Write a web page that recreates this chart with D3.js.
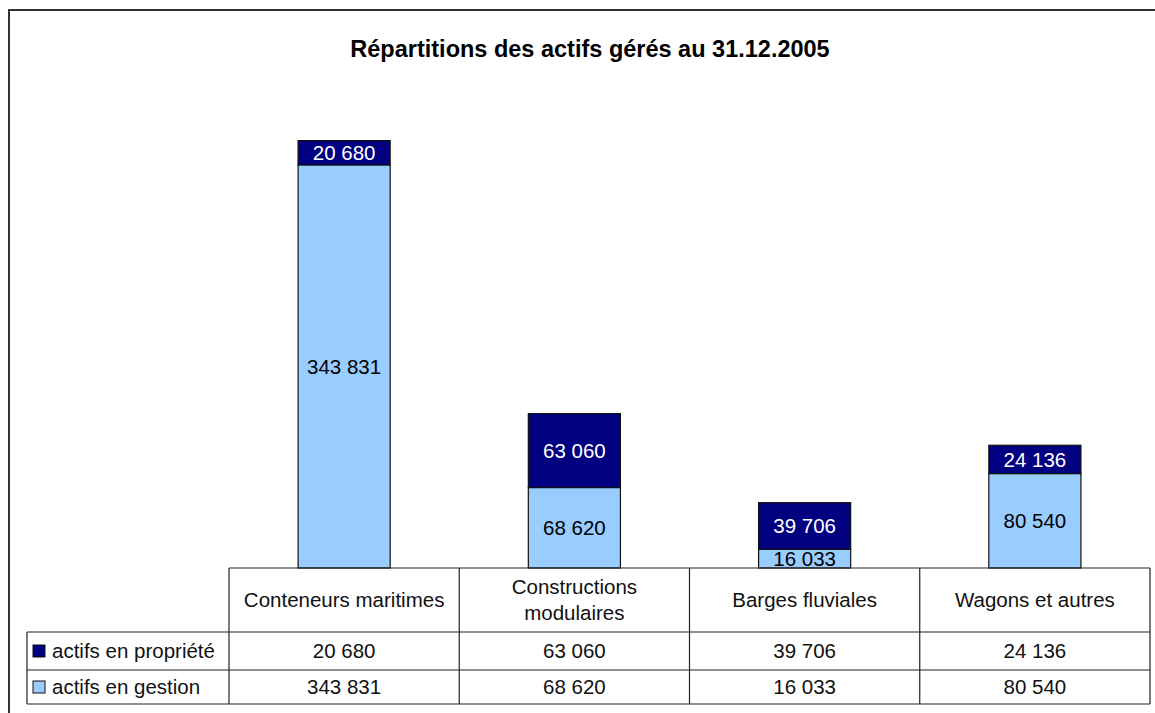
<!DOCTYPE html>
<html lang="fr">
<head>
  <meta charset="UTF-8" />
  <title>Répartitions des actifs gérés</title>
  <script src="https://d3js.org/d3.v7.min.js"></script>
  <style>
    body {margin: 0; background: #fff; font-family: "Liberation Sans", Arial, sans-serif;}
  </style>
</head>
<body>
<script>
  // ****DATA****
  const categories = [["Conteneurs maritimes"], ["Constructions", "modulaires"], ["Barges fluviales"], ["Wagons et autres"]];
  const propriete = [20680, 63060, 39706, 24136];
  const gestion = [343831, 68620, 16033, 80540];
  const seriesNames = ["actifs en propriété", "actifs en gestion"];
  const seriesColors = ["#000080", "#99CCFF"];
  const title = "Répartitions des actifs gérés au 31.12.2005";

  const width = 1155, height = 713;
  const fr = d3.formatLocale({decimal: ",", thousands: " ", grouping: [3], currency: ["", " €"]});
  const fmt = fr.format(",d");
  const fs = "20.5px";

  const svg = d3.select("body").append("svg")
                .attr("width", width).attr("height", height);

  // outer frame (clipped at right and bottom like the original)
  svg.append("rect")
     .attr("x", 9).attr("y", 10).attr("width", 1160).attr("height", 720)
     .attr("fill", "none").attr("stroke", "#333").attr("stroke-width", 2);

  svg.append("text")
     .attr("x", 590).attr("y", 57)
     .attr("text-anchor", "middle")
     .attr("font-size", "23.5px").attr("font-weight", "bold")
     .text(title);

  // ****SCALES****
  const tableLeft = 27, colLeft = 229, tableRight = 1150;
  const xScale = d3.scaleBand()
                   .domain(d3.range(categories.length))
                   .range([colLeft, tableRight])
                   .padding(0);
  const yScale = d3.scaleLinear().domain([0, 400000]).range([568, 99]);
  const barW = xScale.bandwidth() * 0.4;

  // ****BARS****
  const stacked = categories.map((c, i) => [
    {i, s: 1, y0: 0, y1: gestion[i], v: gestion[i]},
    {i, s: 0, y0: gestion[i], y1: gestion[i] + propriete[i], v: propriete[i]}
  ]).flat();

  const bars = svg.append("g");
  bars.selectAll("rect").data(stacked).join("rect")
      .attr("x", d => xScale(d.i) + (xScale.bandwidth() - barW) / 2)
      .attr("width", barW)
      .attr("y", d => yScale(d.y1))
      .attr("height", d => yScale(d.y0) - yScale(d.y1))
      .attr("fill", d => seriesColors[d.s])
      .attr("stroke", "#111").attr("stroke-width", 1.2);

  bars.selectAll("text").data(stacked).join("text")
      .attr("x", d => xScale(d.i) + xScale.bandwidth() / 2)
      .attr("y", d => (yScale(d.y0) + yScale(d.y1)) / 2)
      .attr("dy", "0.36em")
      .attr("text-anchor", "middle")
      .attr("font-size", fs)
      .attr("fill", d => d.s === 0 ? "#fff" : "#000")
      .text(d => fmt(d.v));

  // ****DATA TABLE****
  const rowY = [568, 632, 670, 704];
  const tbl = svg.append("g").attr("stroke", "#222").attr("stroke-width", 1.2);
  tbl.append("line").attr("x1", colLeft).attr("x2", tableRight).attr("y1", rowY[0]).attr("y2", rowY[0]);
  rowY.slice(1).forEach(y => tbl.append("line").attr("x1", tableLeft).attr("x2", tableRight).attr("y1", y).attr("y2", y));
  tbl.append("line").attr("x1", tableLeft).attr("x2", tableLeft).attr("y1", rowY[1]).attr("y2", rowY[3]);
  d3.range(categories.length + 1).forEach(k => {
    const x = k < categories.length ? xScale(k) : tableRight;
    tbl.append("line").attr("x1", x).attr("x2", x).attr("y1", rowY[0]).attr("y2", rowY[3]);
  });

  // header
  const head = svg.append("g").attr("font-size", fs).attr("text-anchor", "middle").attr("fill", "#111");
  categories.forEach((lines, i) => {
    const cy = (rowY[0] + rowY[1]) / 2;
    lines.forEach((l, j) => {
      head.append("text")
          .attr("x", xScale(i) + xScale.bandwidth() / 2)
          .attr("y", cy + (j - (lines.length - 1) / 2) * 26)
          .attr("dy", "0.36em")
          .text(l);
    });
  });

  // rows
  [propriete, gestion].forEach((vals, r) => {
    const cy = (rowY[r + 1] + rowY[r + 2]) / 2;
    svg.append("rect")
       .attr("x", 33).attr("y", cy - 6).attr("width", 12).attr("height", 12)
       .attr("fill", seriesColors[r]).attr("stroke", "#111").attr("stroke-width", 1);
    svg.append("text")
       .attr("x", 52).attr("y", cy).attr("dy", "0.36em")
       .attr("font-size", fs).attr("fill", "#111")
       .text(seriesNames[r]);
    vals.forEach((v, i) => {
      svg.append("text")
         .attr("x", xScale(i) + xScale.bandwidth() / 2)
         .attr("y", cy).attr("dy", "0.36em")
         .attr("text-anchor", "middle")
         .attr("font-size", fs).attr("fill", "#111")
         .text(fmt(v));
    });
  });
</script>
</body>
</html>
